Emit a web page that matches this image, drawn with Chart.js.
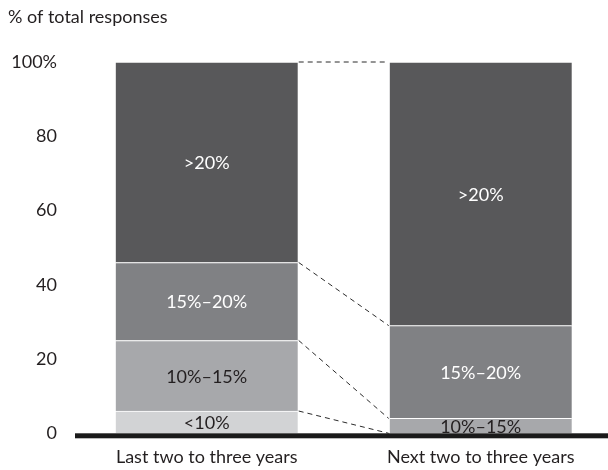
<!DOCTYPE html>
<html>
<head>
<meta charset="utf-8">
<script src="https://cdn.jsdelivr.net/npm/chart.js@4/dist/chart.umd.min.js"></script>
<style>
  html, body { margin: 0; padding: 0; background: #fff; }
  #wrap { width: 608px; height: 470px; }
</style>
</head>
<body>
<div id="wrap"><canvas id="c" width="608" height="470"></canvas></div>
<script>
const categories = ['Last two to three years', 'Next two to three years'];
const seriesNames = ['<10%', '10%–15%', '15%–20%', '>20%'];
const lessThan10 = [6, 0];
const from10to15 = [19, 4];
const from15to20 = [21, 25];
const over20 = [54, 71];
const yTicks = [0, 20, 40, 60, 80, 100];
const yTitle = '% of total responses';

const seriesValues = [lessThan10, from10to15, from15to20, over20];
const fills = ['#d2d3d5', '#a7a8ab', '#808184', '#58585a'];
const labelColors = ['#231f20', '#231f20', '#ffffff', '#ffffff'];
const FONT = 'Lato, "Open Sans", sans-serif';

const datasets = seriesNames.map((name, s) => ({
  label: name,
  data: seriesValues[s].map((v, i) => ({ x: i, y: v })),
  backgroundColor: fills[s],
  borderColor: '#ffffff',
  borderWidth: { top: 1, left: 0, right: 0, bottom: 0 },
  borderSkipped: 'start',
  barThickness: 182
}));

const overlay = {
  id: 'overlay',
  afterDatasetsDraw(chart) {
    const ctx = chart.ctx;
    const ys = chart.scales.y;
    // connectors
    ctx.save();
    ctx.strokeStyle = '#2b2b2b';
    ctx.lineWidth = 1;
    ctx.setLineDash([5, 4]);
    for (let s = 0; s < seriesNames.length; s++) {
      const a = chart.getDatasetMeta(s).data[0];
      const b = chart.getDatasetMeta(s).data[1];
      ctx.beginPath();
      ctx.moveTo(a.x + a.width / 2 + 1, a.y);
      ctx.lineTo(b.x - b.width / 2 - 1, b.y);
      ctx.stroke();
    }
    ctx.restore();
    // segment labels
    ctx.save();
    ctx.font = '18px ' + FONT;
    ctx.textAlign = 'center';
    ctx.textBaseline = 'middle';
    for (let s = 0; s < seriesNames.length; s++) {
      const meta = chart.getDatasetMeta(s);
      meta.data.forEach((el, i) => {
        if (!seriesValues[s][i]) return;
        ctx.fillStyle = labelColors[s];
        ctx.fillText(seriesNames[s], el.x, (el.y + el.base) / 2 + 1);
      });
    }
    ctx.restore();
    // thick baseline
    ctx.save();
    const y0 = ys.getPixelForValue(0);
    ctx.fillStyle = '#1a1a1a';
    ctx.fillRect(chart.chartArea.left, y0, chart.width - chart.chartArea.left, 5);
    // title
    ctx.fillStyle = '#231f20';
    ctx.font = '18px ' + FONT;
    ctx.textAlign = 'left';
    ctx.textBaseline = 'middle';
    ctx.fillText(yTitle, 8, 17);
    ctx.restore();
  }
};

new Chart(document.getElementById('c'), {
  type: 'bar',
  data: { datasets },
  options: {
    responsive: false,
    animation: false,
    devicePixelRatio: 1,
    layout: { padding: { top: 62, right: 0, bottom: 0, left: 0 } },
    plugins: { legend: { display: false }, tooltip: { enabled: false }, title: { display: false } },
    scales: {
      x: {
        type: 'linear',
        stacked: true,
        offset: false,
        bounds: 'data',
        min: -0.4807,
        max: 1.4646,
        grid: { display: false, drawTicks: false, offset: false },
        border: { display: false },
        afterBuildTicks(s) { s.ticks = categories.map((c, i) => ({ value: i })); },
        afterFit(s) { s.height = 470 - 433.3; },
        ticks: {
          autoSkip: false,
          maxRotation: 0,
          padding: 13,
          color: '#231f20',
          font: { family: FONT, size: 18 },
          callback: (v) => categories[v] ?? ''
        }
      },
      y: {
        stacked: true,
        min: 0,
        max: 100,
        grid: { display: false, drawTicks: false },
        border: { display: false },
        afterBuildTicks(s) { s.ticks = yTicks.map(v => ({ value: v })); },
        afterFit(s) { s.width = 75; },
        ticks: {
          padding: 18,
          color: '#231f20',
          font: { family: FONT, size: 18 },
          callback: (v) => v === 100 ? v + '%' : String(v)
        }
      }
    }
  },
  plugins: [overlay]
});
</script>
</body>
</html>
